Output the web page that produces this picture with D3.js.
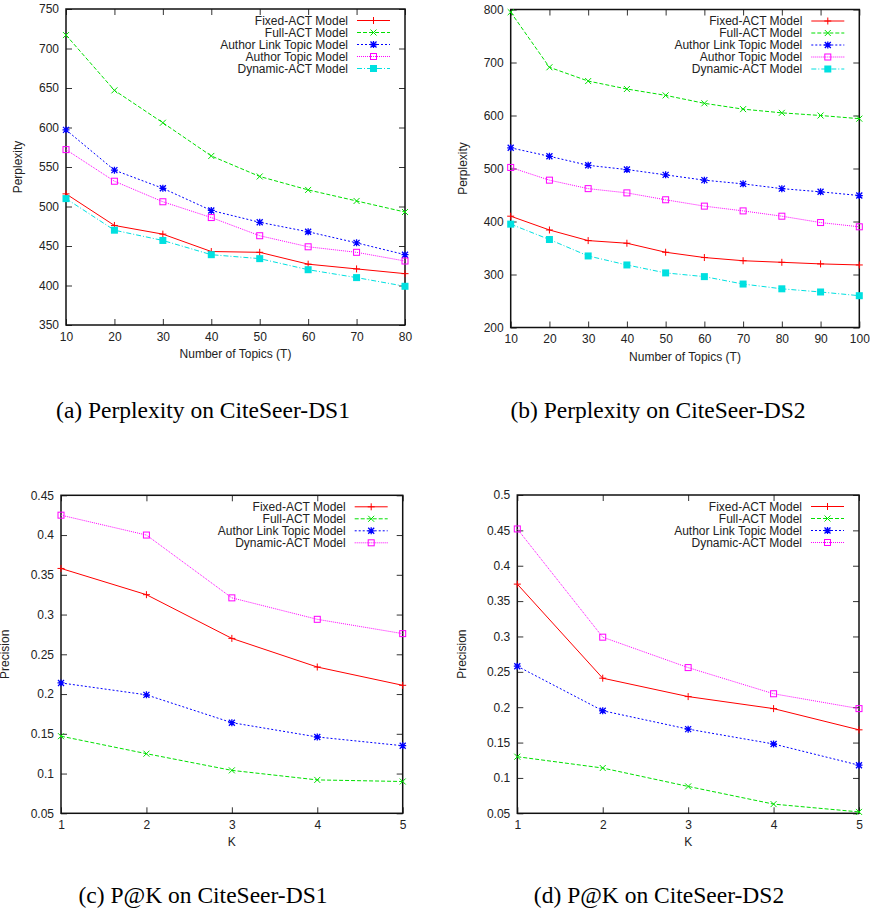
<!DOCTYPE html>
<html>
<head>
<meta charset="utf-8">
<script src="https://cdn.jsdelivr.net/npm/d3@7"></script>
<style>
  body { margin: 0; background: #fff; }
  svg { display: block; }
  .tick text { font-family: "Liberation Sans", Arial, sans-serif; font-size: 12px; fill: #222; }
  .lbl { font-family: "Liberation Sans", Arial, sans-serif; font-size: 12px; fill: #222; }
  .cap { font-family: "Liberation Serif", "Times New Roman", serif; font-size: 23.5px; fill: #000; }
</style>
</head>
<body>
<script>
// ---- data ----
let topicsDS1 = [10, 20, 30, 40, 50, 60, 70, 80];
let topicsDS2 = [10, 20, 30, 40, 50, 60, 70, 80, 90, 100];
let kValues = [1, 2, 3, 4, 5];

let perplexityModels = ["Fixed-ACT Model", "Full-ACT Model", "Author Link Topic Model", "Author Topic Model", "Dynamic-ACT Model"];
let precisionModels = ["Fixed-ACT Model", "Full-ACT Model", "Author Link Topic Model", "Dynamic-ACT Model"];

let fixedDS1 = [516, 476, 465, 443, 442, 427, 421, 415];
let fullDS1  = [717, 647, 606, 564, 538, 521, 507, 493];
let altDS1   = [597, 546, 523, 495, 480, 468, 454, 439];
let atDS1    = [572, 532, 506, 486, 463, 449, 442, 431];
let dynDS1   = [510, 470, 457, 439, 434, 420, 410, 399];

let fixedDS2 = [410, 384, 364, 359, 342, 332, 326, 323, 320, 318];
let fullDS2  = [795, 691, 665, 650, 638, 623, 612, 605, 600, 594];
let altDS2   = [539, 523, 506, 498, 488, 478, 471, 462, 456, 449];
let atDS2    = [502, 478, 462, 454, 441, 429, 420, 410, 398, 390];
let dynDS2   = [395, 366, 335, 318, 303, 296, 282, 273, 267, 260];

let fixedP1 = [0.358, 0.325, 0.270, 0.234, 0.211];
let fullP1  = [0.147, 0.125, 0.104, 0.092, 0.090];
let altP1   = [0.214, 0.199, 0.164, 0.146, 0.135];
let dynP1   = [0.425, 0.400, 0.321, 0.294, 0.276];

let fixedP2 = [0.374, 0.241, 0.215, 0.198, 0.168];
let fullP2  = [0.130, 0.114, 0.088, 0.063, 0.052];
let altP2   = [0.258, 0.195, 0.169, 0.148, 0.118];
let dynP2   = [0.452, 0.299, 0.256, 0.219, 0.198];

let yTicksA = [350, 400, 450, 500, 550, 600, 650, 700, 750];
let yTicksB = [200, 300, 400, 500, 600, 700, 800];
let yTicksC = [0.05, 0.1, 0.15, 0.2, 0.25, 0.3, 0.35, 0.4, 0.45];
let yTicksD = [0.05, 0.1, 0.15, 0.2, 0.25, 0.3, 0.35, 0.4, 0.45, 0.5];

// gnuplot line types 1..5
let styles = [
  {color: "#ff0000", dash: null,      mark: "plus"},
  {color: "#00e000", dash: "4,2",     mark: "cross"},
  {color: "#0000ff", dash: "2,2",     mark: "star"},
  {color: "#ff00ff", dash: "1,1",     mark: "box"},
  {color: "#00e0e0", dash: "5,2,1,2", mark: "fbox"}
];

let svg = d3.select("body").append("svg").attr("width", 870).attr("height", 911);

function drawMark(g, type, color) {
  if (type == "plus") {
    g.append("path").attr("d", "M-3.5,0H3.5M0,-3.5V3.5").attr("stroke", color).attr("fill", "none");
  } else if (type == "cross") {
    g.append("path").attr("d", "M-3,-3L3,3M-3,3L3,-3").attr("stroke", color).attr("fill", "none");
  } else if (type == "star") {
    g.append("path").attr("d", "M-3.5,0H3.5M0,-3.5V3.5M-3,-3L3,3M-3,3L3,-3").attr("stroke", color).attr("stroke-width", 1.3).attr("fill", "none");
  } else if (type == "box") {
    g.append("rect").attr("x", -3).attr("y", -3).attr("width", 6).attr("height", 6).attr("stroke", color).attr("fill", "none");
  } else {
    g.append("rect").attr("x", -3.5).attr("y", -3.5).attr("width", 7).attr("height", 7).attr("fill", color);
  }
}

function drawPanel(p) {
  let x = d3.scaleLinear().domain(p.xDomain).range([p.left, p.right]);
  let y = d3.scaleLinear().domain(p.yDomain).range([p.bottom, p.top]);
  let g = svg.append("g");

  // axes: ticks point inward on all four sides
  g.append("g").attr("transform", "translate(0," + p.bottom + ")")
    .call(d3.axisBottom(x).tickValues(p.xTicks).tickSize(-6).tickPadding(7).tickFormat(d3.format("d")));
  g.append("g").attr("transform", "translate(0," + p.top + ")")
    .call(d3.axisTop(x).tickValues(p.xTicks).tickSize(-6).tickFormat(""));
  g.append("g").attr("transform", "translate(" + p.left + ",0)")
    .call(d3.axisLeft(y).tickValues(p.yTicks).tickSize(-6).tickPadding(7).tickFormat(d => String(+d.toFixed(2))));
  g.append("g").attr("transform", "translate(" + p.right + ",0)")
    .call(d3.axisRight(y).tickValues(p.yTicks).tickSize(-6).tickFormat(""));
  g.selectAll(".domain").remove();
  g.selectAll(".tick line").attr("stroke", "#333");

  g.append("rect").attr("x", p.left).attr("y", p.top)
    .attr("width", p.right - p.left).attr("height", p.bottom - p.top)
    .attr("fill", "none").attr("stroke", "#111").attr("stroke-width", 1.5);

  let line = d3.line().x(d => x(d[0])).y(d => y(d[1]));

  p.series.forEach((vals, i) => {
    let st = styles[i];
    let pts = p.xs.map((xv, j) => [xv, vals[j]]);
    g.append("path").datum(pts).attr("d", line)
      .attr("fill", "none").attr("stroke", st.color).attr("stroke-width", 1)
      .attr("stroke-dasharray", st.dash);
    pts.forEach(pt => {
      let m = g.append("g").attr("transform", "translate(" + x(pt[0]) + "," + y(pt[1]) + ")");
      drawMark(m, st.mark, st.color);
    });

    // legend entry
    let ly = p.top + 11.5 + i * 12;
    g.append("text").attr("class", "lbl").attr("x", p.right - 57).attr("y", ly)
      .attr("text-anchor", "end").attr("dy", "0.35em").text(p.names[i]);
    g.append("line").attr("x1", p.right - 48).attr("x2", p.right - 15).attr("y1", ly).attr("y2", ly)
      .attr("stroke", st.color).attr("stroke-dasharray", st.dash);
    let lm = g.append("g").attr("transform", "translate(" + (p.right - 31.5) + "," + ly + ")");
    drawMark(lm, st.mark, st.color);
  });

  g.append("text").attr("class", "lbl").attr("x", (p.left + p.right) / 2).attr("y", p.bottom + 33)
    .attr("text-anchor", "middle").text(p.xLabel);
  g.append("text").attr("class", "lbl")
    .attr("transform", "translate(" + p.yLabelX + "," + (p.top + p.bottom) / 2 + ") rotate(-90)")
    .attr("text-anchor", "middle").text(p.yLabel);
  g.append("text").attr("class", "cap").attr("x", p.capX).attr("y", p.capY)
    .attr("text-anchor", "middle").text(p.caption);
}

drawPanel({
  left: 66, right: 405, top: 9, bottom: 325,
  xDomain: [10, 80], yDomain: [350, 750], xTicks: topicsDS1, yTicks: yTicksA,
  xs: topicsDS1, series: [fixedDS1, fullDS1, altDS1, atDS1, dynDS1], names: perplexityModels,
  xLabel: "Number of Topics (T)", yLabel: "Perplexity", yLabelX: 21.5,
  caption: "(a) Perplexity on CiteSeer-DS1", capX: 203, capY: 418
});
drawPanel({
  left: 510.7, right: 859.3, top: 9.5, bottom: 327.5,
  xDomain: [10, 100], yDomain: [200, 800], xTicks: topicsDS2, yTicks: yTicksB,
  xs: topicsDS2, series: [fixedDS2, fullDS2, altDS2, atDS2, dynDS2], names: perplexityModels,
  xLabel: "Number of Topics (T)", yLabel: "Perplexity", yLabelX: 467,
  caption: "(b) Perplexity on CiteSeer-DS2", capX: 658, capY: 418
});
drawPanel({
  left: 61, right: 402.7, top: 495.3, bottom: 813.3,
  xDomain: [1, 5], yDomain: [0.05, 0.45], xTicks: kValues, yTicks: yTicksC,
  xs: kValues, series: [fixedP1, fullP1, altP1, dynP1], names: precisionModels,
  xLabel: "K", yLabel: "Precision", yLabelX: 8.5,
  caption: "(c) P@K on CiteSeer-DS1", capX: 203, capY: 903
});
drawPanel({
  left: 517.3, right: 859, top: 495, bottom: 813.3,
  xDomain: [1, 5], yDomain: [0.05, 0.5], xTicks: kValues, yTicks: yTicksD,
  xs: kValues, series: [fixedP2, fullP2, altP2, dynP2], names: precisionModels,
  xLabel: "K", yLabel: "Precision", yLabelX: 465.5,
  caption: "(d) P@K on CiteSeer-DS2", capX: 659, capY: 903
});
</script>
</body>
</html>
